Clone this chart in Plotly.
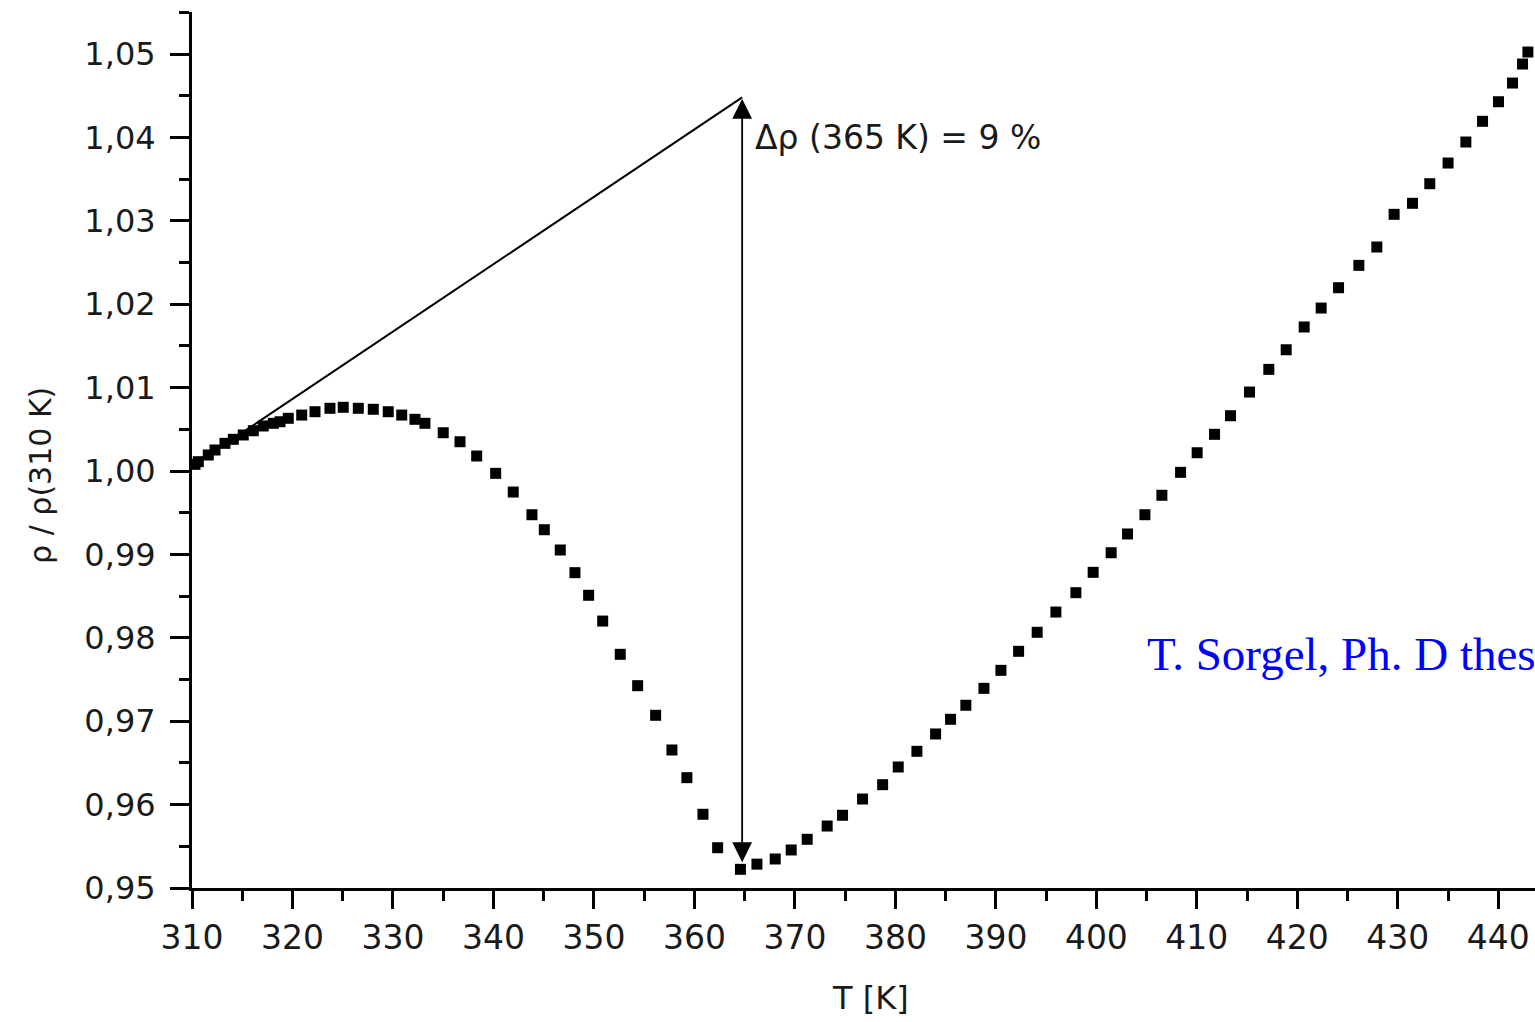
import plotly.graph_objects as go

# Measured data: temperature [K] and normalized resistivity rho/rho(310 K)
T = [310.3, 310.63, 311.62, 312.29, 313.28, 314.11, 315.10, 316.10, 317.09, 318.09, 318.76,
     319.58, 320.92, 322.24, 323.73, 325.05, 326.55, 328.04, 329.53, 330.87, 332.19,
     333.18, 335.00, 336.67, 338.33, 340.22, 341.97, 343.83, 345.06, 346.65, 348.11,
     349.47, 350.87, 352.62, 354.35, 356.14, 357.76, 359.25, 360.85, 362.31, 364.58,
     366.22, 368.04, 369.63, 371.22, 373.21, 374.74, 376.73, 378.73, 380.28, 382.14,
     384.00, 385.49, 387.01, 388.81, 390.50, 392.26, 394.11, 395.97, 397.96, 399.68,
     401.47, 403.10, 404.83, 406.52, 408.38, 410.03, 411.76, 413.35, 415.24, 417.16,
     418.89, 420.68, 422.37, 424.10, 426.12, 427.91, 429.63, 431.46, 433.18, 435.00,
     436.77, 438.43, 440.02, 441.41, 442.41, 442.94]
rho = [1.0008, 1.00112, 1.00192, 1.00252, 1.00332, 1.00380, 1.00432, 1.00483, 1.00540, 1.00572, 1.00591,
       1.00632, 1.00671, 1.00711, 1.00752, 1.00764, 1.00752, 1.00740, 1.00711, 1.00671, 1.00620,
       1.00572, 1.00459, 1.00351, 1.00180, 0.99972, 0.99748, 0.99476, 0.99296, 0.99053, 0.98781,
       0.98510, 0.98201, 0.97802, 0.97426, 0.97071, 0.96655, 0.96323, 0.95884, 0.95483, 0.95224,
       0.95286, 0.95348, 0.95456, 0.95584, 0.95743, 0.95872, 0.96067, 0.96239, 0.96451, 0.96639,
       0.96847, 0.97023, 0.97191, 0.97394, 0.97610, 0.97838, 0.98066, 0.98309, 0.98541, 0.98785,
       0.99020, 0.99245, 0.99476, 0.99709, 0.99984, 1.00219, 1.00440, 1.00663, 1.00947, 1.01219,
       1.01454, 1.01727, 1.01954, 1.02198, 1.02466, 1.02686, 1.03078, 1.03210, 1.03445, 1.03693,
       1.03945, 1.04193, 1.04428, 1.04652, 1.04880, 1.05024]

# Extrapolation line (linear trend from low temperatures)
line_T = [315.0, 364.75]
line_rho = [1.0046, 1.0448]

# Double arrow showing the difference at 365 K
arrow_T = 364.75
arrow_top = 1.0448
arrow_bottom = 0.9531

x_ticks = [310, 320, 330, 340, 350, 360, 370, 380, 390, 400, 410, 420, 430, 440]
y_ticks = [0.95, 0.96, 0.97, 0.98, 0.99, 1.00, 1.01, 1.02, 1.03, 1.04, 1.05]

# Source note, as far as it is visible in the (cropped) reference
source_note = "T. Sorgel, Ph. D thes"

font_sans = "DejaVu Sans, Arial, sans-serif"
txt = "#1a1a1a"

fig = go.Figure()
fig.add_trace(go.Scatter(x=line_T, y=line_rho, mode="lines",
                         line=dict(color="black", width=2), showlegend=False,
                         hoverinfo="skip"))
fig.add_trace(go.Scatter(x=T, y=rho, mode="markers",
                         marker=dict(symbol="square", size=11, color="black",
                                     line=dict(width=0)),
                         showlegend=False, cliponaxis=False))

fig.add_annotation(x=arrow_T, y=arrow_bottom, ax=arrow_T, ay=arrow_top,
                   xref="x", yref="y", axref="x", ayref="y", text="",
                   showarrow=True, arrowhead=2, startarrowhead=2,
                   arrowside="end+start", arrowsize=2.2, startarrowsize=2.2,
                   arrowwidth=1.8, arrowcolor="black")

fig.add_annotation(x=arrow_T + 1.1, y=1.0400, xref="x", yref="y",
                   text="\u0394\u03c1 (365 K) = 9 %", showarrow=False,
                   xanchor="left", yanchor="middle",
                   font=dict(family=font_sans, size=33, color=txt))

fig.add_annotation(x=404.8, y=0.9780, xref="x", yref="y",
                   text=source_note, showarrow=False,
                   xanchor="left", yanchor="middle",
                   font=dict(family="Liberation Serif, Times New Roman, serif",
                             size=47, color="#0000ff"))

fig.add_annotation(x=0.505, y=-0.125, xref="paper", yref="paper",
                   text="T [K]", showarrow=False, xanchor="center", yanchor="middle",
                   font=dict(family=font_sans, size=32, color=txt))

fig.add_annotation(x=-0.1125, y=0.4715, xref="paper", yref="paper",
                   text="\u03c1 / \u03c1(310 K)", showarrow=False, textangle=-90,
                   xanchor="center", yanchor="middle",
                   font=dict(family=font_sans, size=30, color=txt))

fig.update_layout(
    width=1535, height=1022,
    margin=dict(l=192, r=0, t=12, b=134),
    paper_bgcolor="white", plot_bgcolor="white",
    separators=", ",
    showlegend=False,
)
fig.update_xaxes(range=[310, 443.65], tickvals=x_ticks, ticktext=[str(v) for v in x_ticks],
                 showgrid=False, zeroline=False, showline=True, linecolor="black",
                 linewidth=3, ticks="outside", ticklen=18, tickwidth=2.5, tickcolor="black",
                 minor=dict(dtick=5, ticks="outside", ticklen=10, tickwidth=2.5,
                            tickcolor="black", showgrid=False),
                 tickfont=dict(family=font_sans, size=33, color=txt),
                 ticklabelstandoff=0)
fig.update_yaxes(range=[0.95, 1.05504], tickvals=y_ticks, tickformat=".2f",
                 showgrid=False, zeroline=False, showline=True, linecolor="black",
                 linewidth=3, ticks="outside", ticklen=19, tickwidth=2.5, tickcolor="black",
                 minor=dict(dtick=0.005, tick0=0.95, ticks="outside", ticklen=10,
                            tickwidth=2.5, tickcolor="black", showgrid=False),
                 tickfont=dict(family=font_sans, size=32, color=txt),
                 ticklabelstandoff=8)

fig.write_html("out.html", config={"displayModeBar": False},
               post_script="document.body.style.margin='0';document.body.style.overflow='hidden';")
